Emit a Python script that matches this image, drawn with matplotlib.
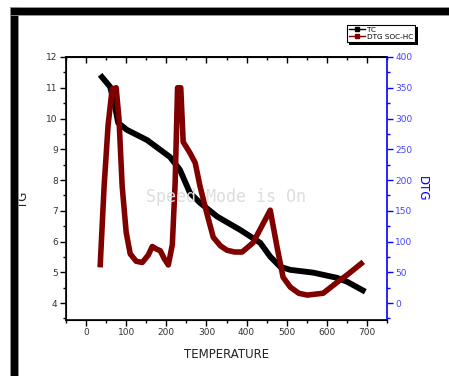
import numpy as np
import matplotlib
matplotlib.use("Agg")
import matplotlib.pyplot as plt
from matplotlib.lines import Line2D
from matplotlib.patches import Rectangle
from matplotlib.ticker import MultipleLocator

# TG curve (TC)
temp_tc = [35, 60, 72, 80, 102, 152, 209, 234, 259, 284, 327, 384, 434, 459, 484, 509, 566, 626, 651, 696]
tg = [11.42, 11.03, 10.40, 9.86, 9.63, 9.30, 8.75, 8.33, 7.58, 7.26, 6.81, 6.38, 5.96, 5.51, 5.18, 5.08, 4.99, 4.82, 4.69, 4.37]

# DTG curve (SOC-HC)
temp_dtg = [35, 45, 55, 65, 75, 82, 90, 100, 110, 125, 140, 155, 165, 175, 185, 195, 205, 215, 222, 228,
            236, 242, 259, 272, 284, 301, 317, 335, 351, 370, 389, 416, 459, 476, 491, 509, 530, 551, 591,
            626, 651, 691]
dtg = [58, 190, 290, 348, 350, 300, 190, 115, 80, 68, 66, 78, 92, 88, 85, 72, 62, 95, 195, 350,
       350, 262, 244, 228, 190, 146, 107, 93, 86, 83, 83, 98, 151, 91, 42, 26, 16, 13, 16,
       34, 46, 67]

W, H = 449, 376
fig = plt.figure(figsize=(W / 100, H / 100), dpi=100, facecolor="white")

# black frame (left and top)
fig.patches.append(Rectangle((10 / W, 0), 8 / W, (H - 7) / H, transform=fig.transFigure,
                             facecolor="black", edgecolor="#999999", lw=0.6, zorder=0))
fig.patches.append(Rectangle((10 / W, (H - 15) / H), (W - 10) / W, 8 / H, transform=fig.transFigure,
                             facecolor="black", edgecolor="#999999", lw=0.6, zorder=0))

ax = fig.add_axes([66 / W, (H - 320) / H, (387 - 66) / W, (320 - 57) / H])
ax2 = ax.twinx()

ax.plot(temp_tc, tg, color="black", lw=4.2, solid_joinstyle="round", solid_capstyle="butt", zorder=3)
ax2.plot(temp_dtg, dtg, color="#800000", lw=4.0, solid_joinstyle="round", solid_capstyle="butt", zorder=3)

ax.set_xlim(-50, 750)
ax.set_ylim(3.45, 12)
ax2.set_ylim(-27.5, 400)

ax.xaxis.set_major_locator(MultipleLocator(100))
ax.xaxis.set_minor_locator(MultipleLocator(50))
ax.yaxis.set_major_locator(MultipleLocator(1))
ax.yaxis.set_minor_locator(MultipleLocator(0.5))
ax2.yaxis.set_major_locator(MultipleLocator(50))
ax2.yaxis.set_minor_locator(MultipleLocator(25))

ax.set_xticks(range(0, 701, 100))
ax.tick_params(axis="x", which="both", direction="out", top=False, labelsize=6.5,
               labelcolor="#333333", width=1, pad=2)
ax.tick_params(axis="y", which="both", direction="out", labelsize=6.5, labelcolor="#333333",
               width=1, pad=2)
ax.tick_params(which="major", length=4)
ax.tick_params(which="minor", length=2)
ax2.tick_params(axis="y", which="both", direction="out", colors="blue", labelcolor="#4444ff",
                labelsize=6.5, width=1, pad=2)
ax2.tick_params(which="major", length=4)
ax2.tick_params(which="minor", length=2)

# top ticks pointing inward
top = ax.secondary_xaxis("top")
top.xaxis.set_major_locator(MultipleLocator(100))
top.xaxis.set_minor_locator(MultipleLocator(50))
top.tick_params(which="both", direction="in", labeltop=False, width=1)
top.tick_params(which="major", length=4)
top.tick_params(which="minor", length=2)
top.spines["top"].set_linewidth(1.2)

for s in ax.spines.values():
    s.set_linewidth(1.2)
ax2.spines["right"].set_color("blue")
ax2.spines["right"].set_linewidth(1.2)
ax.spines["right"].set_visible(False)

ax.set_xlabel("TEMPERATURE", fontsize=8.5, color="#222222", labelpad=8)
ax.set_ylabel("TG", fontsize=8.5, color="#222222")
ax.yaxis.set_label_coords((30 - 66) / (387 - 66), (320 - 200) / (320 - 57))
ax2.set_ylabel("DTG", fontsize=8.5, color="blue", rotation=270, labelpad=12)

handles = [Line2D([], [], color="black", lw=1, marker="s", markersize=3),
           Line2D([], [], color="#800000", lw=1, marker="s", markersize=3)]
leg = fig.legend(handles, ["TC", "DTG SOC-HC"], loc="upper left",
                 bbox_to_anchor=(343 / W, 1 - 21 / H), fontsize=5.2, handlelength=2.2,
                 handletextpad=0.3, borderpad=0.3, labelspacing=0.15,
                 fancybox=False, shadow=False, framealpha=1)
leg.get_frame().set_edgecolor("black")
leg.get_frame().set_linewidth(0.8)

# small drop shadow behind the legend box
fig.canvas.draw()
bb = leg.get_window_extent().transformed(fig.transFigure.inverted())
fig.patches.append(Rectangle((bb.x0 + 2.5 / W, bb.y0 - 2.5 / H), bb.width, bb.height,
                             transform=fig.transFigure, facecolor="black", edgecolor="none",
                             zorder=1))
leg.set_zorder(5)

fig.text(226 / W, 1 - 197 / H, "Speed Mode is On", family="DejaVu Sans Mono", fontsize=12,
         color="#dddddd", ha="center", va="center")

fig.savefig("out.png", dpi=100)
